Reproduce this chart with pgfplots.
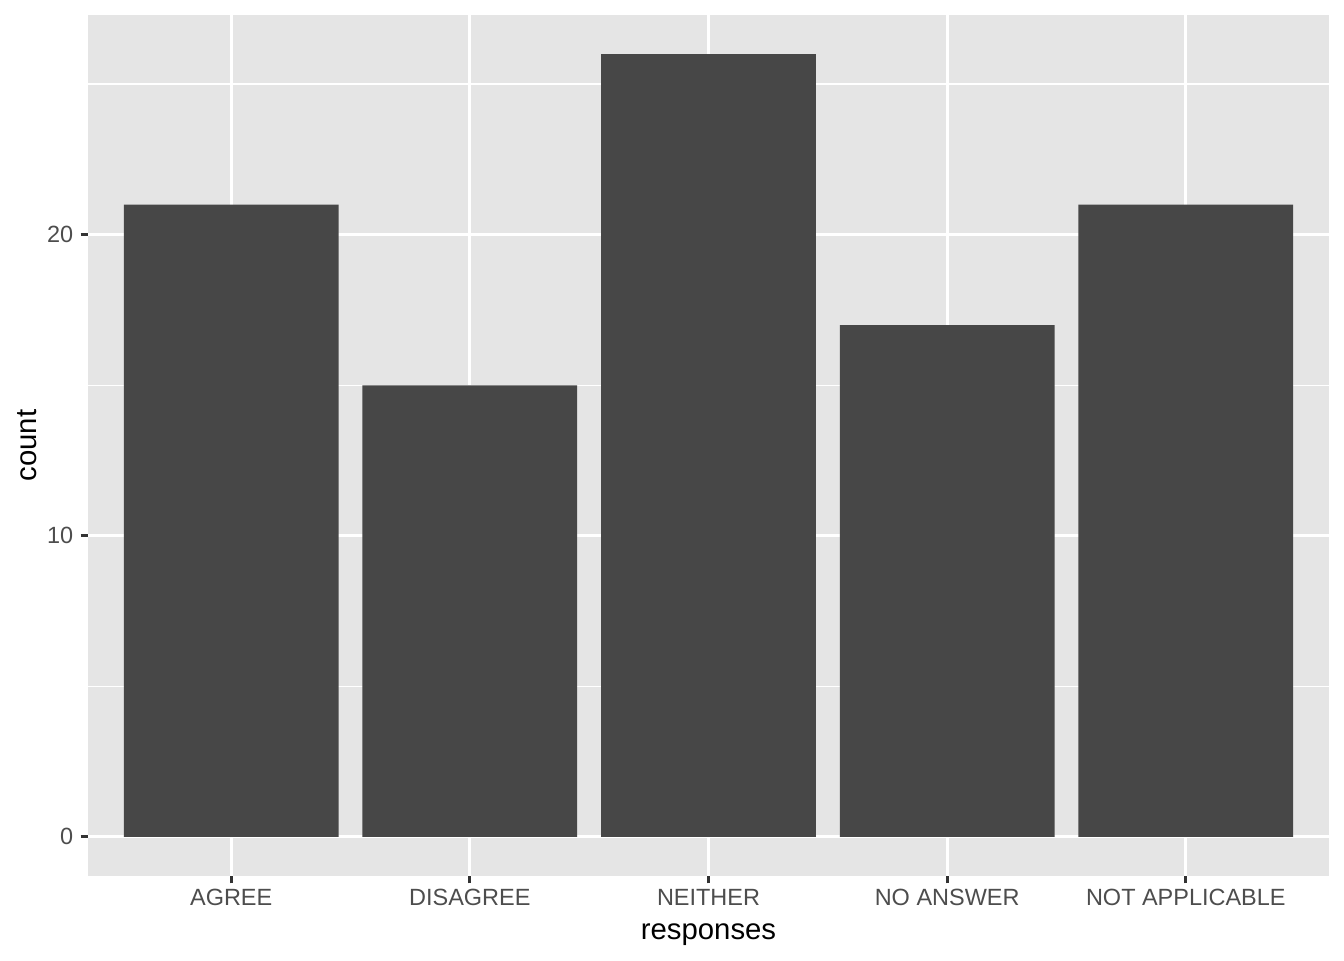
\documentclass[border=0pt]{standalone}
\usepackage{pgfplots}
\pgfplotsset{compat=1.18}
\usepackage{fontspec}
\setmainfont{Liberation Sans}
\definecolor{panelbg}{HTML}{E5E5E5}
\definecolor{barfill}{HTML}{474747}
\definecolor{ticklab}{HTML}{4D4D4D}
\definecolor{tickcol}{HTML}{333333}
\begin{document}
\begin{tikzpicture}
\begin{axis}[
  scale only axis,
  width=930.75pt, height=645.75pt,
  xmin=0.4, xmax=5.6,
  ymin=-1.3, ymax=27.3,
  axis background/.style={fill=panelbg},
  axis line style={draw=none},
  xtick={1,2,3,4,5},
  xticklabels={AGREE,DISAGREE,NEITHER,NO ANSWER,NOT APPLICABLE},
  ytick={0,10,20},
  minor ytick={5,15,25},
  grid=both,
  major grid style={white, line width=2.2pt},
  minor grid style={white, line width=1.1pt},
  tick style={tickcol, line width=2.2pt},
  major tick length=5.5pt,
  minor tick length=0pt,
  tick align=outside,
  xtick pos=bottom, ytick pos=left,
  ticklabel style={font=\fontsize{17.6}{20}\selectfont, text=ticklab},
  /pgf/number format/assume math mode=true,
  xticklabel style={yshift=-1pt},
  yticklabel style={xshift=-2pt},
  xlabel={responses},
  ylabel={count},
  label style={font=\fontsize{22}{26}\selectfont, text=black},
  xlabel style={yshift=-6.5pt},
  ylabel style={yshift=1pt},
  clip=false,
]
\addplot[ybar, bar width=0.9, fill=barfill, draw=none, bar shift=0pt]
  coordinates {(1,21) (2,15) (3,26) (4,17) (5,21)};
\end{axis}
\path (current axis.south west) ++(-66pt,-63pt) coordinate (bl);
\path (current axis.north east) ++(11.25pt,11.25pt) coordinate (tr);
\path (bl) rectangle (tr);
\end{tikzpicture}
\end{document}
